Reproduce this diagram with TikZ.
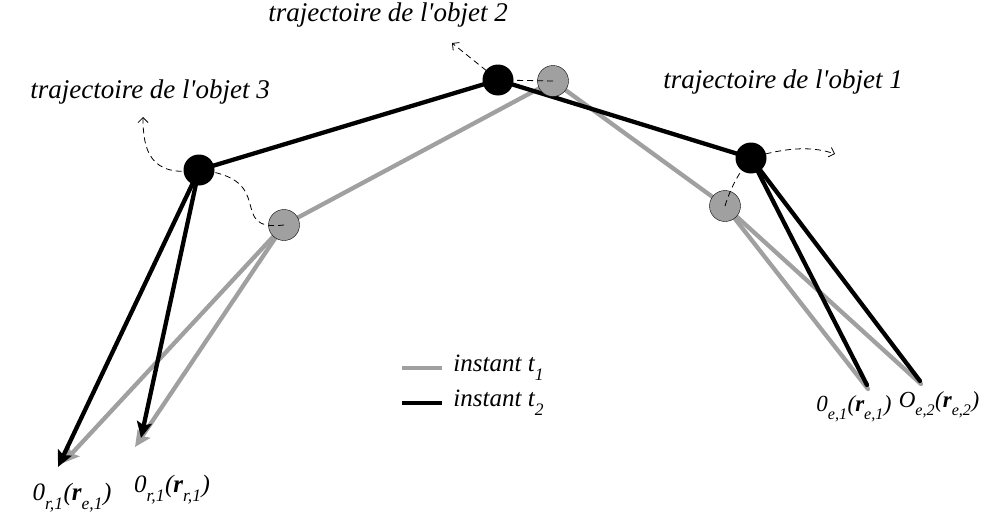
\documentclass[tikz,border=0pt]{standalone}
\usepackage{fontspec}
\setmainfont{Liberation Serif}
\usetikzlibrary{arrows.meta}
\definecolor{trgray}{RGB}{160,160,160}
\newcommand{\lsub}[1]{\raisebox{-0.45ex}{\textsubscript{#1}}}

\begin{document}
\begin{tikzpicture}[x=1pt,y=-1pt,>={Stealth[length=16pt,width=15pt,inset=3pt]},
		posA/.style={circle,fill=black,minimum size=31pt,inner sep=0pt},
		posB/.style={circle,fill=trgray,draw=black,thin,minimum size=31pt,inner sep=0pt},
		lineA/.style={line width=4.3pt,black},
		lineB/.style={line width=4.3pt,trgray},
		traj/.style={line width=0.8pt,dash pattern=on 6pt off 4pt,-{Straight Barb[length=5pt,width=10pt]}},
		tlabel/.style={font=\fontsize{27}{31}\selectfont\itshape},
		olabel/.style={text=black,font=\fontsize{25}{29}\selectfont\itshape},
		rlabel/.style={text=black,inner sep=1pt,font=\fontsize{23}{27}\selectfont\itshape}]
	\useasboundingbox (0,0) rectangle (983,522);
	% positions at instant t2 (black) and t1 (gray)
	\coordinate (b3) at (199,170);
	\coordinate (b2) at (498,80);
	\coordinate (b1) at (751,158);
	\coordinate (g3) at (284,225);
	\coordinate (g2) at (553,81);
	\coordinate (g1) at (725,206);
	% free ends
	\coordinate (br1) at (58,467);
	\coordinate (br2) at (141,438);
	\coordinate (gr1) at (63,463);
	\coordinate (gr2) at (135,447);
	\coordinate (be1) at (867,385);
	\coordinate (be2) at (920,381);
	\coordinate (ge1) at (868,389);
	\coordinate (ge2) at (921,384);

	\draw[lineB] (g3) -- (g2) -- (g1);
	\path[lineB,->] (g3) edge (gr1) edge (gr2);
	\path[lineB,line cap=round] (g1) edge (ge1) edge (ge2);
	\draw[lineA] (b3) -- (b2) -- (b1);
	\path[lineA,->] (b3) edge (br1) edge (br2);
	\path[lineA,line cap=round] (b1) edge (be1) edge (be2);

	\node[posB] (n3) at (g3) {};
	\node[posB] (n2) at (g2) {};
	\node[posB] (n1) at (g1) {};

	\coordinate (e3) at (143,117);
	\coordinate (e2) at (452,43);
	\coordinate (e1) at (835,154);
	\draw[traj] (n3.center) .. controls (225,232) and (280,178) .. (b3) .. controls (150,178) and (143,150) .. (e3);
	\draw[traj] (n2.center) -- (b2) -- (e2);
	\draw[traj] (n1.center) .. controls (733,180) and (745,165) .. (b1) .. controls (790,146) and (815,147) .. (e1);

	\node[posA] (m3) at (b3) {};
	\node[posA] (m2) at (b2) {};
	\node[posA] (m1) at (b1) {};

	\node[tlabel] (t3) at (150,92) {trajectoire de l\textquotesingle objet 3};
	\node[tlabel] (t2) at (388,15) {trajectoire de l\textquotesingle objet 2};
	\node[tlabel] (t1) at (783,82) {trajectoire de l\textquotesingle objet 1};

	% legend
	\coordinate (k1) at (402,368);
	\coordinate (k2) at (402,403);
	\draw[lineB] (k1) -- ++(40,0) node[olabel,anchor=west,xshift=6pt] (i1) {instant t\lsub{1}};
	\draw[lineA] (k2) -- ++(40,0) node[olabel,anchor=west,xshift=6pt] (i2) {instant t\lsub{2}};

	\node[olabel] (o1) at (72,498) {0\lsub{r,1}(\textbf{r}\lsub{e,1})};
	\node[olabel] (o2) at (172,490) {0\lsub{r,1}(\textbf{r}\lsub{r,1})};
	\node[rlabel] (o3) at (854,409) {0\lsub{e,1}(\textbf{r}\lsub{e,1})};
	\node[rlabel] (o4) at (939,405) {O\lsub{e,2}(\textbf{r}\lsub{e,2})};
\end{tikzpicture}
\end{document}
